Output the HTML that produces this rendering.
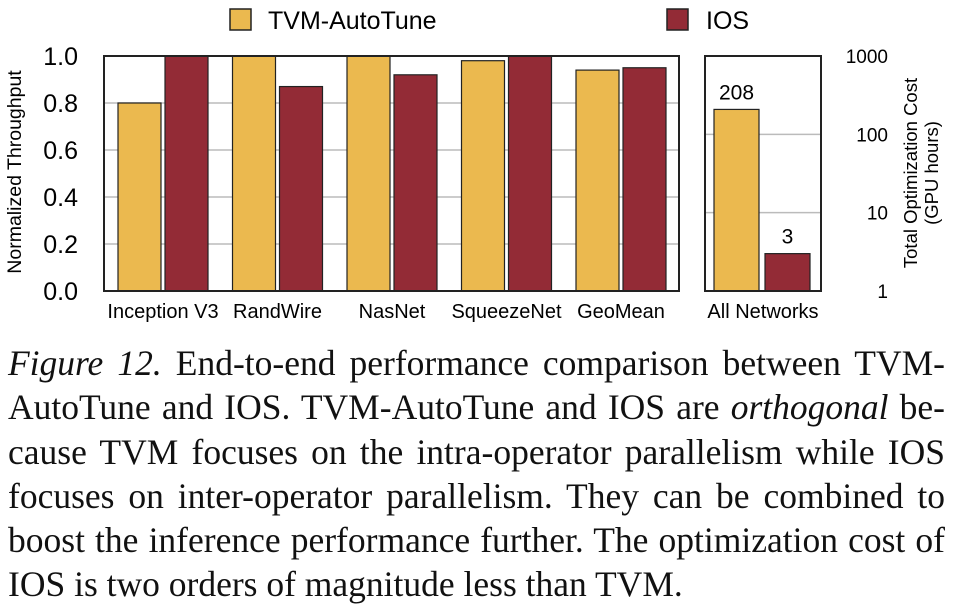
<!DOCTYPE html>
<html><head><meta charset="utf-8"><style>
body{margin:0;background:#fff;width:954px;height:603px;overflow:hidden;position:relative}
svg{position:absolute;left:0;top:0}
.cap{position:absolute;left:8px;width:937px;font-family:"Liberation Serif",serif;font-size:35.5px;line-height:44.3px;top:341px;color:#111}
.cap div{text-align:justify;text-align-last:justify;white-space:nowrap;height:44.3px}
.cap div.last{text-align-last:left}
</style></head><body>
<svg id="chart" width="954" height="340" font-family="Liberation Sans, sans-serif"></svg>
<div class="cap">
<div><i>Figure 12.</i> End-to-end performance comparison between TVM-</div>
<div>AutoTune and IOS. TVM-AutoTune and IOS are <i>orthogonal</i> be-</div>
<div>cause TVM focuses on the intra-operator parallelism while IOS</div>
<div>focuses on inter-operator parallelism. They can be combined to</div>
<div>boost the inference performance further. The optimization cost of</div>
<div class="last">IOS is two orders of magnitude less than TVM.</div>
</div>
<script>
const categories=["Inception V3","RandWire","NasNet","SqueezeNet","GeoMean"];
const tvmValues=[0.80,1.0,1.0,0.98,0.94];
const iosValues=[1.0,0.87,0.92,1.0,0.95];
const yTicks=[0,0.2,0.4,0.6,0.8,1.0];
const costCategory="All Networks";
const costValues=[208,3];
const costTicks=[1,10,100,1000];
const NS="http://www.w3.org/2000/svg";
const svg=document.getElementById('chart');
function mk(t,a,txt){const e=document.createElementNS(NS,t);for(const k in a)e.setAttribute(k,a[k]);if(txt!==undefined)e.textContent=txt;svg.appendChild(e);return e;}
const C1="#ebb94f",C2="#932b36";
const plotTop=56,plotBot=291;
const y=v=>plotBot-v*(plotBot-plotTop);
const yl=v=>plotBot-Math.log10(v)*(plotBot-plotTop)/3;
yTicks.forEach(t=>{if(t>0&&t<1){const g=mk('line',{x1:104,x2:679,y1:y(t),y2:y(t),stroke:'#bbb','stroke-width':1.5});}
const l=mk('text',{x:78,y:y(t)+9,'text-anchor':'end','font-size':25},t.toFixed(1));});
categories.forEach((c,i)=>{const gx=118+i*114.5;
const b1=mk('rect',{x:gx,y:y(tvmValues[i]),width:43,height:plotBot-y(tvmValues[i]),fill:C1,stroke:'#222','stroke-width':1.2});

const b2=mk('rect',{x:gx+47,y:y(iosValues[i]),width:43,height:plotBot-y(iosValues[i]),fill:C2,stroke:'#222','stroke-width':1.2});

const t=mk('text',{x:gx+45,y:318,'text-anchor':'middle','font-size':20},c);});
const f1=mk('rect',{x:104,y:56,width:575,height:235,fill:'none',stroke:'#222','stroke-width':2});
const yt=mk('text',{transform:'translate(21,172) rotate(-90)','text-anchor':'middle','font-size':19.5},'Normalized Throughput');
costTicks.forEach(t=>{if(t>1&&t<1000){const g=mk('line',{x1:705,x2:821,y1:yl(t),y2:yl(t),stroke:'#bbb','stroke-width':1.5});}
const l=mk('text',{x:888,y:yl(t)+7,'text-anchor':'end','font-size':19},String(t));});
[C1,C2].forEach((col,i)=>{const x=714+i*51;const v=costValues[i];
const b=mk('rect',{x:x,y:yl(v),width:45,height:plotBot-yl(v),fill:col,stroke:'#222','stroke-width':1.2});

const t=mk('text',{x:x+22.5,y:yl(v)-10,'text-anchor':'middle','font-size':21},String(v));});
const f2=mk('rect',{x:705,y:56,width:116,height:235,fill:'none',stroke:'#222','stroke-width':2});
const ct=mk('text',{x:763,y:318,'text-anchor':'middle','font-size':20},costCategory);
const r1=mk('text',{transform:'translate(917,173) rotate(-90)','text-anchor':'middle','font-size':18.5},'Total Optimization Cost');
const r2=mk('text',{transform:'translate(938,173) rotate(-90)','text-anchor':'middle','font-size':18.5},'(GPU hours)');
const l1=mk('rect',{x:230,y:9,width:21,height:21,fill:C1,stroke:'#222','stroke-width':1.5});
const lt1=mk('text',{x:268,y:29,'font-size':25},'TVM-AutoTune');
const l2=mk('rect',{x:667,y:9,width:21,height:21,fill:C2,stroke:'#222','stroke-width':1.5});
const lt2=mk('text',{x:706,y:29,'font-size':25},'IOS');
</script>
</body></html>
